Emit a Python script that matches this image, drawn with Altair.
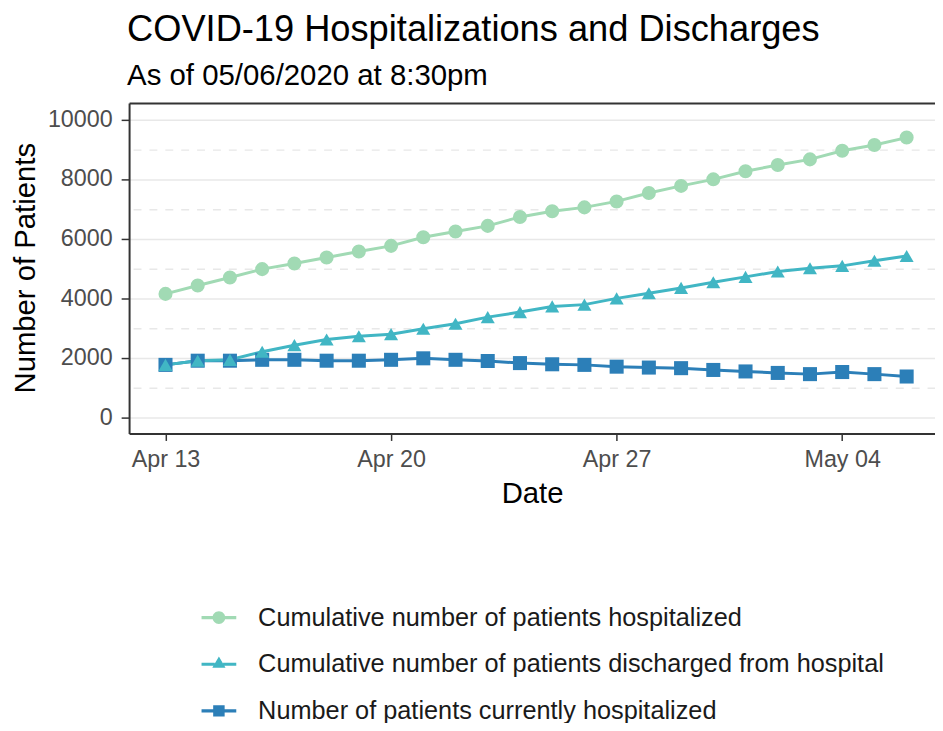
import altair as alt
import pandas as pd

# ---- data ----
dates = pd.date_range("2020-04-13", "2020-05-06", freq="D")
series_names = [
    "Cumulative number of patients hospitalized",
    "Cumulative number of patients discharged from hospital",
    "Number of patients currently hospitalized",
]
hospitalized = [4150, 4430, 4700, 4980, 5170, 5370, 5570, 5760, 6050, 6240, 6430, 6730,
                6920, 7050, 7250, 7530, 7770, 7990, 8260, 8470, 8660, 8950, 9140, 9390]
discharged = [1770, 1910, 1940, 2210, 2430, 2620, 2730, 2800, 2980, 3150, 3370, 3540,
              3730, 3790, 4000, 4170, 4350, 4540, 4720, 4900, 5010, 5090, 5260, 5420]
current = [1770, 1910, 1910, 1940, 1940, 1910, 1910, 1940, 1990, 1940, 1900, 1830,
           1790, 1770, 1710, 1680, 1660, 1600, 1550, 1500, 1460, 1530, 1460, 1380]

colors = ["#a1dab4", "#41b6c4", "#2c7fb8"]
point_shapes = ["circle", "triangle-up", "square"]
y_major_ticks = [0, 2000, 4000, 6000, 8000, 10000]
y_minor_ticks = [1000, 3000, 5000, 7000, 9000]
x_tick_dates = [(4, 13), (4, 20), (4, 27), (5, 4)]

# legend glyphs: line segment with the marker in the middle
legend_paths = [
    "M-1,-0.09H-0.3V0.09H-1Z M0.3,-0.09H1V0.09H0.3Z "
    "M-0.37,0A0.37,0.37 0 1,1 0.37,0A0.37,0.37 0 1,1 -0.37,0Z",
    "M-1,-0.09H-0.24V0.09H-1Z M0.24,-0.09H1V0.09H0.24Z "
    "M0,-0.44L0.38,0.2L-0.38,0.2Z",
    "M-1,-0.09H-0.3V0.09H-1Z M0.3,-0.09H1V0.09H0.3Z "
    "M-0.33,-0.33H0.33V0.33H-0.33Z",
]

# long table, drawn current -> discharged -> hospitalized
rows = []
for name, vals in [(series_names[2], current), (series_names[1], discharged),
                   (series_names[0], hospitalized)]:
    for d, v in zip(dates, vals):
        rows.append({"date": d, "value": v, "series": name})
df = pd.DataFrame(rows)

FONT = "Liberation Sans"

x_scale = alt.Scale(domain=[alt.DateTime(year=2020, month=4, date=11, hours=20, minutes=53),
                            alt.DateTime(year=2020, month=5, date=6, hours=21, minutes=7)])
y_scale = alt.Scale(domain=[-530, 10550], nice=False, zero=False)
color_scale = alt.Scale(domain=series_names, range=colors)

x_axis_main = alt.Axis(
    values=[alt.DateTime(year=2020, month=m, date=d) for m, d in x_tick_dates],
    format="%b %d", grid=False, domain=True, domainColor="#333333", domainWidth=2,
    ticks=True, tickColor="#333333", tickWidth=1.5, tickSize=7,
    labelFont=FONT, labelFontSize=23.5, labelColor="#4d4d4d",
    labelBaseline="alphabetic", labelPadding=26, labelFlush=False,
    title="Date", titleFont=FONT, titleFontSize=29.5, titleFontWeight="normal",
    titleColor="black", titleBaseline="alphabetic", titleY=70,
)
y_axis_main = alt.Axis(
    values=y_major_ticks, format="d", grid=True, gridColor="#e8e8e8", gridWidth=1.5,
    domain=True, domainColor="#333333", domainWidth=2,
    ticks=True, tickColor="#333333", tickWidth=1.5, tickSize=8,
    labelFont=FONT, labelFontSize=23.5, labelColor="#4d4d4d", labelPadding=9,
    title="Number of Patients", titleFont=FONT, titleFontSize=29.5,
    titleFontWeight="normal", titleColor="black", titleAngle=270,
    titleAlign="center", titleBaseline="alphabetic", titleX=-95, titleY=166,
)

lines = alt.Chart(df).mark_line(strokeWidth=3).encode(
    x=alt.X("date:T", scale=x_scale, axis=x_axis_main),
    y=alt.Y("value:Q", scale=y_scale, axis=y_axis_main),
    color=alt.Color("series:N", scale=color_scale, legend=None),
    detail="series:N",
)

points = alt.Chart(df).mark_point(filled=True, size=200, opacity=1).encode(
    x=alt.X("date:T", scale=x_scale, axis=None),
    y=alt.Y("value:Q", scale=y_scale, axis=None),
    color=alt.Color("series:N", scale=color_scale, legend=None),
    shape=alt.Shape("series:N", scale=alt.Scale(domain=series_names, range=point_shapes),
                    legend=None),
)

legend_props = dict(
    orient="none", legendX=73, legendY=501, title=None, direction="vertical",
    labelFont=FONT, labelFontSize=25.5, labelColor="#1a1a1a", labelOffset=22,
    symbolSize=1225, symbolOpacity=1, symbolStrokeWidth=0, rowPadding=16,
    labelLimit=800,
)

legend_layer = alt.Chart(df).mark_point(filled=True, opacity=0).encode(
    x=alt.X("date:T", scale=x_scale,
            axis=alt.Axis(orient="top", labels=False, ticks=False, grid=False,
                          domain=True, domainColor="#333333", domainWidth=2, title=None)),
    y=alt.Y("value:Q", scale=y_scale,
            axis=alt.Axis(orient="right", values=y_minor_ticks, labels=False, ticks=False,
                          domain=False, grid=True, gridColor="#e8e8e8", gridWidth=1.5,
                          gridDash=[8, 8], title=None)),
    color=alt.Color("series:N", scale=alt.Scale(domain=series_names, range=colors),
                    legend=alt.Legend(**legend_props)),
    shape=alt.Shape("series:N", scale=alt.Scale(domain=series_names, range=legend_paths),
                    legend=alt.Legend(**legend_props)),
)

chart = (
    alt.layer(lines, points, legend_layer)
    .resolve_scale(color="independent", shape="independent")
    .resolve_axis(x="independent", y="independent")
    .properties(
        width=812, height=333,
        autosize=alt.AutoSizeParams(type="none"),
        padding={"left": 122, "top": 93, "right": 0, "bottom": 289},
        title=alt.TitleParams(
            text="COVID-19 Hospitalizations and Discharges",
            subtitle="As of 05/06/2020 at 8:30pm",
            anchor="start", frame="group", font=FONT, subtitleFont=FONT,
            fontSize=36.5, subtitleFontSize=29.6, fontWeight="normal",
            color="black", subtitleColor="black", offset=13, subtitlePadding=13, dx=-2,
        ),
        background="white",
    )
    .configure_view(stroke=None)
)

chart.save("out.html", embed_options={"renderer": "svg", "actions": False})
